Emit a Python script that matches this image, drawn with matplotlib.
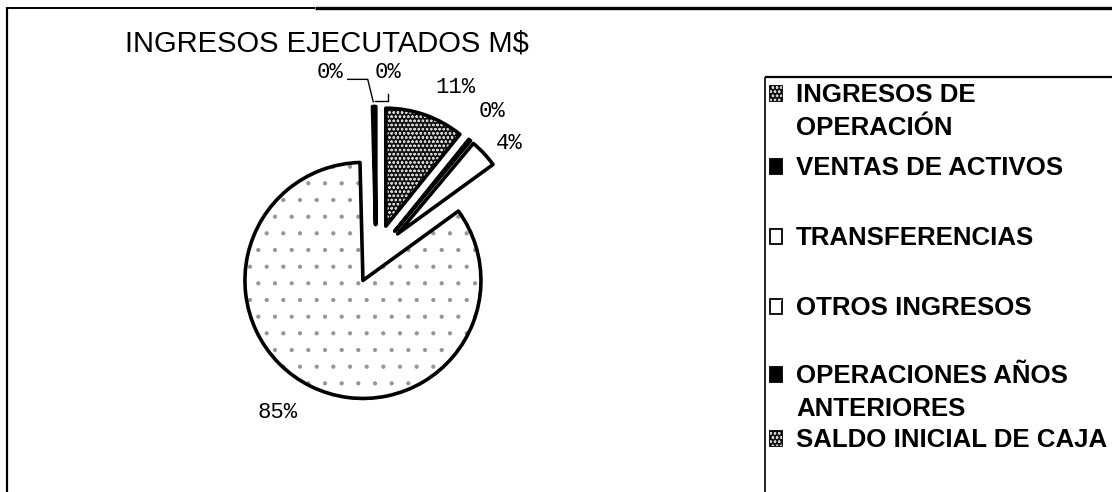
import math
import matplotlib
matplotlib.use("Agg")
import matplotlib.pyplot as plt
from matplotlib.patches import Wedge, Rectangle
from matplotlib.lines import Line2D

# ---- data ----
categories = ["INGRESOS DE OPERACIÓN", "VENTAS DE ACTIVOS", "TRANSFERENCIAS",
              "OTROS INGRESOS", "OPERACIONES AÑOS ANTERIORES", "SALDO INICIAL DE CAJA"]
legend_labels = ["INGRESOS DE\nOPERACIÓN", "VENTAS DE ACTIVOS", "TRANSFERENCIAS",
                 "OTROS INGRESOS", "OPERACIONES AÑOS\nANTERIORES", "SALDO INICIAL DE CAJA"]
values = [10.8, 0.3, 3.9, 84.6, 0.2, 0.2]
title = "INGRESOS EJECUTADOS M$"

# ---- styles ----
fills = ["#121212", "black", "white", "white", "black", "#121212"]
hatches = ["oooo", None, None, ".", None, "oooo"]
hatch_colors = ["#d0d0d0", None, None, "#959595", None, "#d0d0d0"]

W, H = 1112, 492
plt.rcParams["hatch.linewidth"] = 0.6
fig = plt.figure(figsize=(W / 100, H / 100), dpi=100)
fig.patch.set_facecolor("white")

def fx(x):
    return x / W

def fy(y):
    return 1 - y / H

# pie axes: centre (376,254) px, 1 data unit = 118 px
cx, cy, half = 376, 254, 177
ax = fig.add_axes([fx(cx - half), (H - cy - half) / H, 2 * half / W, 2 * half / H])

total = sum(values)
pct_labels = [f"{v / total * 100:.0f}%" for v in values]

wedges, texts = ax.pie(values, explode=[0.25] * len(values), startangle=90,
                       counterclock=False, labels=pct_labels, labeldistance=1.25,
                       colors=fills, wedgeprops=dict(linewidth=0),
                       textprops=dict(family="Liberation Mono", fontsize=16, color="black"))
ax.set_xlim(-1.5, 1.5)
ax.set_ylim(-1.5, 1.5)
ax.set_aspect("equal")
ax.axis("off")

for w, h, hc in zip(wedges, hatches, hatch_colors):
    if h:
        ov = Wedge(w.center, w.r, w.theta1, w.theta2, fill=False, hatch=h,
                   edgecolor=hc, linewidth=0, zorder=w.zorder + 0.1)
        ax.add_patch(ov)
    ol = Wedge(w.center, w.r, w.theta1, w.theta2, fill=False, edgecolor="black",
               linewidth=2.6, joinstyle="round", zorder=w.zorder + 0.2)
    ax.add_patch(ol)

# nudge crowded labels (layout only)
texts[1].set_position((0.87, 1.205))
texts[2].set_position((1.02, 0.94))
texts[4].set_position((-0.39, 1.54))
texts[4].set_ha("center")
texts[5].set_position((0.10, 1.54))
texts[5].set_ha("center")

def tip(w):
    m = math.radians((w.theta1 + w.theta2) / 2)
    return w.center[0] + w.r * math.cos(m), w.center[1] + w.r * math.sin(m)

t4 = tip(wedges[4])
t5 = tip(wedges[5])
ax.plot([-0.24, -0.07, t4[0]], [1.48, 1.48, t4[1] + 0.04], color="black", lw=1.0,
        clip_on=False)
ax.plot([0.10, 0.10, t5[0]], [1.36, 1.30, 1.30], color="black", lw=1.0, clip_on=False)

# ---- title ----
fig.text(fx(125), fy(52), title, fontsize=21, family="Liberation Sans",
         ha="left", va="baseline")

# ---- legend ----
baselines = [102, 175, 245, 315, 383, 447]
line_gap = 33
for lab, b, fc, h, hc in zip(legend_labels, baselines, fills, hatches, hatch_colors):
    r = Rectangle((fx(770), fy(b - 1)), 12 / W, 15 / H, transform=fig.transFigure,
                  facecolor=fc, edgecolor="black", linewidth=1.3)
    fig.add_artist(r)
    if h:
        r2 = Rectangle((fx(770), fy(b - 1)), 12 / W, 15 / H, transform=fig.transFigure,
                       fill=False, hatch=h, edgecolor=hc, linewidth=0)
        fig.add_artist(r2)
    for i, part in enumerate(lab.split("\n")):
        fig.text(fx(796), fy(b + i * line_gap), part, fontsize=18.6, weight="bold",
                 family="Liberation Sans", ha="left", va="baseline")

# ---- frames ----
def line(x0, y0, x1, y1, lw):
    fig.add_artist(Line2D([fx(x0), fx(x1)], [fy(y0), fy(y1)], transform=fig.transFigure,
                          color="black", lw=lw, solid_capstyle="butt"))

line(7, 7, 7, 492, 1.6)
line(7, 8, 315, 8, 1.4)
line(315, 8, 1112, 8, 2.4)
line(765, 77, 765, 492, 1.2)
line(765, 77, 1112, 77, 1.6)

fig.savefig("out.png", dpi=100, facecolor="white")
